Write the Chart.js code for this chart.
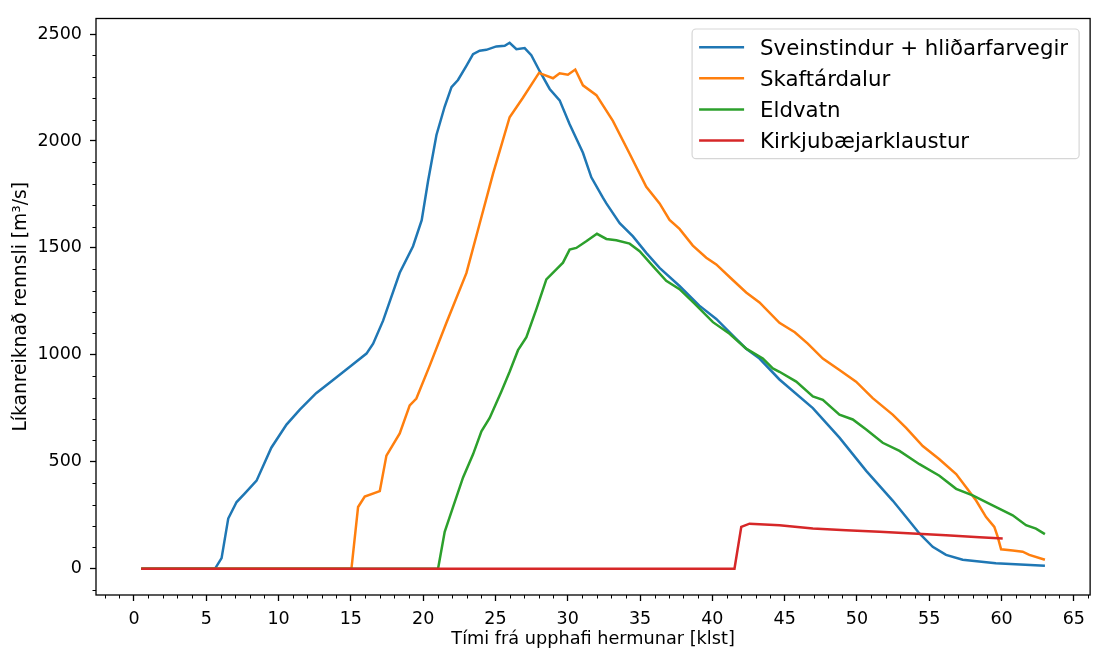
<!DOCTYPE html>
<html><head><meta charset="utf-8">
<script src="https://cdn.jsdelivr.net/npm/chart.js@4/dist/chart.umd.min.js"></script>
<style>html,body{margin:0;padding:0;background:#fff;}#wrap{width:1093px;height:650px;}</style>
</head><body><div id="wrap"><canvas id="c" width="1093" height="650"></canvas></div>
<script>
const seriesNames = ['Sveinstindur + hliðarfarvegir', 'Skaftárdalur', 'Eldvatn', 'Kirkjubæjarklaustur'];
const seriesColors = ['#1f77b4', '#ff7f0e', '#2ca02c', '#d62728'];

const sveinT = [0.5, 5.6, 6.06, 6.52, 7.1, 7.67, 8.48, 9.5, 10.55, 11.47, 12.6, 13.77, 14.93, 16.08, 16.54, 17.23, 18.38, 19.3, 19.9, 20.34, 20.92, 21.49, 21.96, 22.41, 22.99, 23.45, 23.91, 24.37, 25.06, 25.64, 25.98, 26.45, 27.02, 27.48, 28.06, 28.75, 29.44, 30.13, 31.05, 31.63, 32.43, 32.67, 33.59, 34.51, 35.43, 36.35, 37.73, 39.1, 40.27, 41.65, 42.34, 43.26, 44.64, 46.95, 48.79, 50.64, 52.47, 53.4, 54.32, 55.24, 56.16, 57.31, 59.6, 63.0];
const sveinQ = [0, 0, 50, 235, 312, 353, 412, 566, 674, 744, 821, 883, 944, 1006, 1052, 1160, 1384, 1508, 1630, 1813, 2028, 2161, 2252, 2285, 2351, 2406, 2422, 2426, 2442, 2445, 2459, 2429, 2434, 2401, 2326, 2243, 2190, 2078, 1945, 1830, 1735, 1708, 1616, 1554, 1477, 1407, 1322, 1230, 1168, 1075, 1029, 983, 885, 751, 613, 458, 319, 242, 165, 103, 65, 42, 26, 14];

const skaftT = [0.5, 15.04, 15.5, 15.96, 17.0, 17.46, 18.38, 19.07, 19.53, 20.46, 21.61, 22.99, 23.91, 24.83, 25.98, 26.9, 28.01, 28.98, 29.44, 30.01, 30.52, 31.05, 31.98, 33.12, 34.28, 35.43, 36.35, 37.04, 37.73, 38.65, 39.58, 40.27, 41.3, 42.34, 43.26, 44.64, 45.7, 46.6, 47.64, 48.79, 49.94, 51.09, 52.47, 53.4, 54.55, 55.7, 56.86, 57.55, 58.24, 58.93, 59.5, 59.73, 59.97, 60.77, 61.46, 61.92, 63.0];
const skaftQ = [0, 0, 289, 338, 363, 529, 633, 764, 796, 951, 1150, 1382, 1614, 1846, 2111, 2202, 2318, 2293, 2316, 2310, 2334, 2260, 2214, 2094, 1940, 1786, 1708, 1631, 1589, 1511, 1454, 1423, 1357, 1292, 1245, 1150, 1106, 1053, 983, 929, 875, 798, 721, 659, 574, 512, 443, 381, 319, 242, 196, 150, 91, 85, 80, 65, 42];

const eldT = [0.5, 21.03, 21.49, 22.07, 22.76, 23.45, 24.03, 24.6, 25.41, 25.98, 26.56, 27.14, 27.83, 28.52, 29.21, 29.67, 30.13, 30.59, 31.28, 32.02, 32.67, 33.36, 34.28, 34.97, 35.89, 36.81, 37.73, 38.77, 40.04, 41.19, 42.34, 43.49, 44.18, 44.64, 45.8, 46.95, 47.64, 48.79, 49.71, 50.64, 51.78, 52.94, 54.32, 55.7, 56.86, 58.0, 59.38, 60.77, 61.69, 62.38, 63.0];
const eldQ = [0, 0, 173, 289, 427, 535, 643, 705, 829, 921, 1022, 1083, 1214, 1353, 1400, 1431, 1492, 1500, 1531, 1566, 1542, 1536, 1520, 1485, 1415, 1346, 1307, 1240, 1153, 1099, 1029, 983, 937, 921, 875, 806, 790, 721, 698, 651, 589, 551, 489, 435, 374, 343, 296, 250, 204, 188, 162];

const kirkT = [0.5, 41.53, 42.0, 42.57, 44.64, 46.95, 49.25, 51.56, 53.86, 56.16, 58.47, 60.08];
const kirkQ = [0, 0, 196, 211, 204, 188, 180, 173, 165, 157, 147, 142];

const xTickVals = [0, 5, 10, 15, 20, 25, 30, 35, 40, 45, 50, 55, 60, 65];
const yTickVals = [0, 500, 1000, 1500, 2000, 2500];
const xTitle = 'Tími frá upphafi hermunar [klst]';
const yTitle = 'Líkanreiknað rennsli [m³/s]';

const FONT = "'DejaVu Sans', 'Liberation Sans', sans-serif";
const tSeries = [sveinT, skaftT, eldT, kirkT];
const qSeries = [sveinQ, skaftQ, eldQ, kirkQ];

const datasets = seriesNames.map((name, i) => ({
  label: name,
  data: tSeries[i].map((t, j) => ({x: t, y: qSeries[i][j]})),
  borderColor: seriesColors[i],
  backgroundColor: seriesColors[i],
  borderWidth: 2.5,
  pointRadius: 0,
  tension: 0,
  fill: false,
  order: 3 - i
}));

const framePlugin = {
  id: 'frame',
  afterDraw(chart) {
    const ctx = chart.ctx, a = chart.chartArea;
    const xs = chart.scales.x, ys = chart.scales.y;
    ctx.save();
    ctx.strokeStyle = '#000';
    ctx.lineWidth = 1;
    ctx.beginPath();
    for (let v = Math.ceil(xs.min); v <= xs.max; v++) {
      if (v % 5 === 0) continue;
      const px = Math.round(xs.getPixelForValue(v)) + 0.5;
      ctx.moveTo(px, a.bottom); ctx.lineTo(px, a.bottom + 3.5);
    }
    for (let v = Math.ceil(ys.min / 100) * 100; v <= ys.max; v += 100) {
      if (v % 500 === 0) continue;
      const py = Math.round(ys.getPixelForValue(v)) + 0.5;
      ctx.moveTo(a.left, py); ctx.lineTo(a.left - 3.5, py);
    }
    ctx.stroke();
    ctx.lineWidth = 1.3;
    ctx.strokeRect(a.left, a.top, a.right - a.left, a.bottom - a.top);
    // legend
    const fs = 21.3;
    ctx.font = fs + 'px ' + FONT;
    const rowH = 31.1;
    let maxW = 0;
    chart.data.datasets.forEach(d => { maxW = Math.max(maxW, ctx.measureText(d.label).width); });
    const boxW = 68 + maxW + 11;
    const boxH = 18.2 * 2 + rowH * (chart.data.datasets.length - 1);
    const bx = a.right - 11 - boxW, by = a.top + 10.5;
    ctx.beginPath();
    if (ctx.roundRect) ctx.roundRect(bx, by, boxW, boxH, 4); else ctx.rect(bx, by, boxW, boxH);
    ctx.fillStyle = 'rgba(255,255,255,0.8)';
    ctx.fill();
    ctx.strokeStyle = 'rgba(204,204,204,0.8)';
    ctx.lineWidth = 1.2;
    ctx.stroke();
    chart.data.datasets.forEach((d, i) => {
      const cy = by + 18.2 + i * rowH;
      ctx.beginPath();
      ctx.strokeStyle = d.borderColor;
      ctx.lineWidth = 2.5;
      ctx.moveTo(bx + 7, cy); ctx.lineTo(bx + 52, cy);
      ctx.stroke();
      ctx.fillStyle = '#000';
      ctx.textBaseline = 'alphabetic';
      ctx.textAlign = 'left';
      ctx.fillText(d.label, bx + 68, cy + 0.365 * fs);
    });
    ctx.restore();
  }
};

const tickFont = {family: FONT, size: 17.5};
new Chart(document.getElementById('c'), {
  type: 'line',
  data: {datasets},
  plugins: [framePlugin],
  options: {
    responsive: false,
    animation: false,
    devicePixelRatio: 1,
    layout: {padding: {top: 12, right: 1, left: 0, bottom: 0}},
    plugins: {legend: {display: false}, tooltip: {enabled: false}},
    scales: {
      x: {
        type: 'linear',
        min: -2.625, max: 66.125,
        afterBuildTicks: s => { s.ticks = xTickVals.map(v => ({value: v})); },
        afterFit: s => { s.height = 55; },
        ticks: {font: tickFont, color: '#000', padding: 8, maxRotation: 0, autoSkip: false, callback: v => String(v)},
        grid: {drawOnChartArea: false, drawTicks: true, tickLength: 6, tickColor: '#000', tickWidth: 1.3},
        border: {display: false},
        title: {display: true, text: xTitle, font: {family: FONT, size: 17.7}, color: '#000', padding: {top: 0, bottom: 0}}
      },
      y: {
        type: 'linear',
        min: -122.5, max: 2572.5,
        afterBuildTicks: s => { s.ticks = yTickVals.map(v => ({value: v})); },
        afterFit: s => { s.width = 96; },
        ticks: {font: tickFont, color: '#000', padding: 8, autoSkip: false, callback: v => String(v)},
        grid: {drawOnChartArea: false, drawTicks: true, tickLength: 6, tickColor: '#000', tickWidth: 1.3},
        border: {display: false},
        title: {display: true, text: yTitle, font: {family: FONT, size: 18.7}, color: '#000', padding: {top: 10, bottom: 0}}
      }
    }
  }
});
</script></body></html>
